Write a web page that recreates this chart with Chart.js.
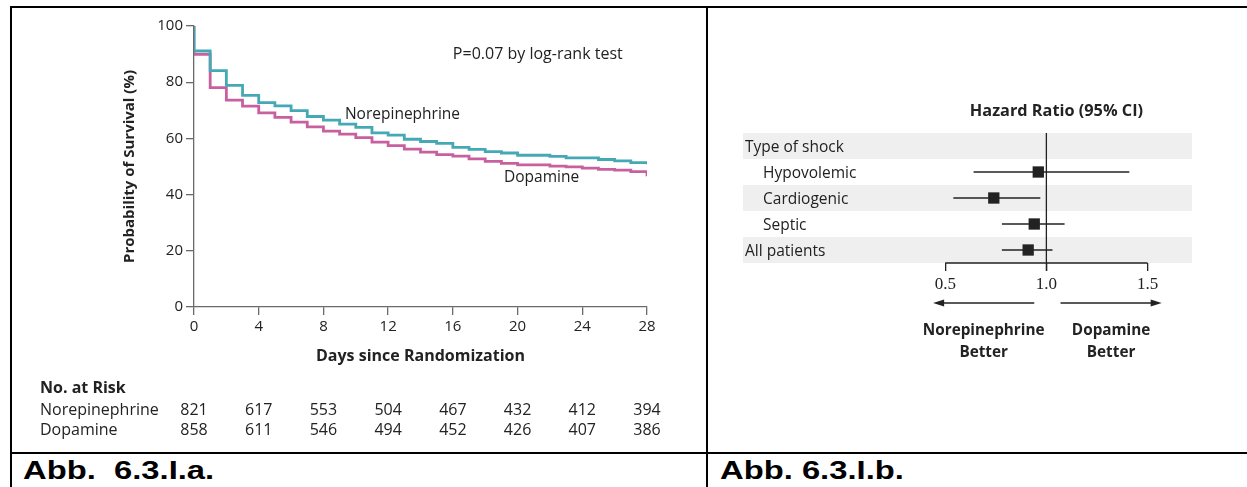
<!DOCTYPE html>
<html>
<head>
<meta charset="utf-8">
<script src="https://cdn.jsdelivr.net/npm/chart.js@4.4.0/dist/chart.umd.min.js"></script>
<style>
  body { margin: 0; background: #fff; width: 1247px; height: 487px; overflow: hidden; position: relative; }
  canvas { position: absolute; }
  .rule { position: absolute; background: #000; }
  .caption { position: absolute; font: bold 26px "Liberation Sans", Arial, sans-serif; line-height: 30px; white-space: pre; color: #000; transform: scaleX(1.26); transform-origin: 0 0; }
</style>
</head>
<body>
<canvas id="km" width="707" height="452" style="left:0;top:0"></canvas>
<canvas id="forest" width="539" height="444" style="left:708px;top:8px"></canvas>

<div class="rule" style="left:10px;top:6px;width:1237px;height:2px"></div>
<div class="rule" style="left:10px;top:6px;width:2px;height:481px"></div>
<div class="rule" style="left:706px;top:6px;width:2px;height:481px"></div>
<div class="rule" style="left:10px;top:452px;width:1237px;height:2px"></div>
<div class="caption" style="left:23px;top:455px">Abb.  6.3.I.a.</div>
<div class="caption" style="left:720px;top:455px">Abb. 6.3.I.b.</div>

<script>
// survival curves (first point is the 100% start at day 0)
var days = [0, 0, 1, 2, 3, 4, 5, 6, 7, 8, 9, 10, 11, 12, 13, 14, 15, 16, 17, 18, 19, 20, 21, 22, 23, 24, 25, 26, 27, 28];
var norepinephrine = [100, 91.1, 84.1, 78.9, 75.3, 72.7, 71.6, 69.9, 67.8, 66.5, 65.1, 63.9, 62.0, 61.2, 59.7, 58.9, 58.2, 56.8, 56.1, 55.3, 54.8, 54.0, 54.0, 53.6, 53.1, 53.1, 52.5, 52.0, 51.4, 50.8];
var dopamine = [100, 89.9, 78.1, 73.6, 71.5, 69.1, 67.5, 65.8, 64.1, 62.6, 61.5, 60.3, 58.7, 57.4, 56.2, 55.1, 54.2, 53.7, 52.7, 51.8, 51.1, 50.6, 50.6, 50.1, 49.9, 49.4, 49.0, 48.7, 48.2, 46.5];

var dayTicks = [0, 4, 8, 12, 16, 20, 24, 28];
var survivalTicks = [0, 20, 40, 60, 80, 100];
var riskNorepinephrine = [821, 617, 553, 504, 467, 432, 412, 394];
var riskDopamine = [858, 611, 546, 494, 452, 426, 407, 386];

// forest plot
var subgroups = ["Type of shock", "Hypovolemic", "Cardiogenic", "Septic", "All patients"];
var indented = [false, true, true, true, false];
var hazardRatio = [null, 0.96, 0.74, 0.94, 0.91];
var ciLow = [null, 0.64, 0.54, 0.78, 0.78];
var ciHigh = [null, 1.41, 0.97, 1.09, 1.03];
var hrTicks = [0.5, 1.0, 1.5];

var teal = "#45a9b5";
var pink = "#c8609f";
var ink = "#222";
var sans = "'Open Sans', sans-serif";

// chart 1 - Kaplan-Meier

var kmLabels = {
    id: "kmLabels",
    afterDraw: function (chart) {
        var ctx = chart.ctx;
        var x = chart.scales.x, y = chart.scales.y;
        ctx.save();
        ctx.fillStyle = ink;
        ctx.textBaseline = "middle";
        ctx.textAlign = "left";
        ctx.font = "16px " + sans;
        ctx.fillText("P=0.07 by log-rank test", x.getPixelForValue(16.0), y.getPixelForValue(89.9));
        ctx.font = "15.5px " + sans;
        ctx.fillText("Norepinephrine", x.getPixelForValue(9.33), y.getPixelForValue(68.5));
        ctx.fillText("Dopamine", x.getPixelForValue(19.16), y.getPixelForValue(46.1));

        // number at risk
        ctx.font = "bold 16px " + sans;
        ctx.fillText("No. at Risk", 40, 388);
        ctx.font = "16px " + sans;
        ctx.fillText("Norepinephrine", 40, 410);
        ctx.fillText("Dopamine", 40, 430);
        ctx.textAlign = "center";
        dayTicks.forEach(function (d, i) {
            var px = x.getPixelForValue(d);
            ctx.fillText(String(riskNorepinephrine[i]), px, 410);
            ctx.fillText(String(riskDopamine[i]), px, 430);
        });
        ctx.restore();
    }
};

function curve(values) {
    return days.map(function (d, i) { return { x: d, y: values[i] }; });
}

new Chart(document.getElementById("km"), {
    type: "line",
    data: {
        datasets: [{
            label: "Norepinephrine",
            data: curve(norepinephrine),
            borderColor: teal,
            borderWidth: 2.8,
            pointRadius: 0,
            stepped: true,
            fill: false
        }, {
            label: "Dopamine",
            data: curve(dopamine),
            borderColor: pink,
            borderWidth: 2.8,
            pointRadius: 0,
            stepped: true,
            fill: false
        }]
    },
    options: {
        responsive: false,
        animation: false,
        layout: { padding: { left: 114, right: 60, top: 26, bottom: 85 } },
        plugins: {
            legend: { display: false },
            tooltip: { enabled: false }
        },
        scales: {
            x: {
                type: "linear",
                min: 0,
                max: 28,
                afterBuildTicks: function (s) { s.ticks = dayTicks.map(function (v) { return { value: v }; }); },
                afterFit: function (s) { s.height = 60; },
                grid: { drawOnChartArea: false, tickLength: 8, color: "#6a6a6a", lineWidth: 1.3 },
                border: { color: "#6a6a6a", width: 1.3 },
                ticks: { color: ink, padding: 3, maxRotation: 0, autoSkip: false, font: { family: sans, size: 15 } },
                title: {
                    display: true,
                    text: "Days since Randomization",
                    color: ink,
                    font: { family: sans, size: 16, weight: "bold" },
                    padding: { top: 0, bottom: 1 }
                }
            },
            y: {
                min: 0,
                max: 100,
                afterBuildTicks: function (s) { s.ticks = survivalTicks.map(function (v) { return { value: v }; }); },
                afterFit: function (s) { s.width = 80; },
                grid: { drawOnChartArea: false, tickLength: 8, color: "#6a6a6a", lineWidth: 1.3 },
                border: { color: "#6a6a6a", width: 1.3 },
                ticks: { color: ink, padding: 3, font: { family: sans, size: 15 } },
                title: {
                    display: true,
                    text: "Probability of Survival (%)",
                    color: ink,
                    font: { family: sans, size: 15, weight: "bold" },
                    padding: { top: 7, bottom: 0 }
                }
            }
        }
    },
    plugins: [kmLabels]
});

// chart 2 - hazard ratios

var forestDecor = {
    id: "forestDecor",
    beforeDatasetsDraw: function (chart) {
        var ctx = chart.ctx, area = chart.chartArea;
        var x = chart.scales.x, y = chart.scales.y;
        ctx.save();
        ctx.fillStyle = "#efefef";
        subgroups.forEach(function (name, i) {
            if (i % 2 === 0) {
                var top = y.getPixelForValue(i - 0.5), bottom = y.getPixelForValue(i + 0.5);
                ctx.fillRect(area.left, top, area.right - area.left, bottom - top);
            }
        });
        ctx.strokeStyle = ink;
        ctx.lineWidth = 1.3;
        ctx.beginPath();
        ctx.moveTo(x.getPixelForValue(hrTicks[0]), area.bottom);
        ctx.lineTo(x.getPixelForValue(hrTicks[hrTicks.length - 1]), area.bottom);
        ctx.moveTo(x.getPixelForValue(1), area.top);
        ctx.lineTo(x.getPixelForValue(1), area.bottom + 8);
        ctx.stroke();
        ctx.restore();
    },
    afterDraw: function (chart) {
        var ctx = chart.ctx, area = chart.chartArea;
        var x = chart.scales.x, y = chart.scales.y;
        ctx.save();
        ctx.fillStyle = ink;
        ctx.textBaseline = "middle";
        ctx.textAlign = "left";
        ctx.font = "15.5px " + sans;
        subgroups.forEach(function (name, i) {
            ctx.fillText(name, area.left + (indented[i] ? 20 : 2), y.getPixelForValue(i) + 1.5);
        });

        ctx.textAlign = "center";
        ctx.font = "bold 16.3px " + sans;
        ctx.fillText("Hazard Ratio (95% CI)", x.getPixelForValue(1.05), 103);

        // arrows
        var ay = 303 - 8;
        function arrow(from, to) {
            var x0 = x.getPixelForValue(from), x1 = x.getPixelForValue(to);
            var dir = x1 > x0 ? 1 : -1;
            ctx.strokeStyle = ink;
            ctx.lineWidth = 1.3;
            ctx.beginPath();
            ctx.moveTo(x0, ay);
            ctx.lineTo(x1 - dir * 8, ay);
            ctx.stroke();
            ctx.beginPath();
            ctx.moveTo(x1, ay);
            ctx.lineTo(x1 - dir * 11, ay - 3.5);
            ctx.lineTo(x1 - dir * 11, ay + 3.5);
            ctx.closePath();
            ctx.fill();
        }
        arrow(0.94, 0.44);
        arrow(1.07, 1.57);

        ctx.font = "bold 15.3px " + sans;
        ctx.fillText("Norepinephrine", x.getPixelForValue(0.69), 323);
        ctx.fillText("Better", x.getPixelForValue(0.69), 345);
        ctx.fillText("Dopamine", x.getPixelForValue(1.32), 323);
        ctx.fillText("Better", x.getPixelForValue(1.32), 345);
        ctx.restore();
    }
};

var ciSets = [];
subgroups.forEach(function (name, i) {
    if (hazardRatio[i] === null) return;
    ciSets.push({
        type: "line",
        label: name + " CI",
        data: [{ x: ciLow[i], y: i }, { x: ciHigh[i], y: i }],
        borderColor: ink,
        borderWidth: 1.3,
        pointRadius: 0
    });
});

var points = [];
subgroups.forEach(function (name, i) {
    if (hazardRatio[i] !== null) points.push({ x: hazardRatio[i], y: i });
});

new Chart(document.getElementById("forest"), {
    type: "scatter",
    data: {
        datasets: [{
            label: "Hazard ratio",
            data: points,
            pointStyle: "rect",
            pointRadius: 8,
            backgroundColor: ink,
            borderWidth: 0
        }].concat(ciSets)
    },
    options: {
        responsive: false,
        animation: false,
        layout: { padding: { left: 35, right: 55, top: 125, bottom: 159 } },
        plugins: {
            legend: { display: false },
            tooltip: { enabled: false }
        },
        scales: {
            x: {
                type: "linear",
                min: -0.5,
                max: 1.72,
                afterBuildTicks: function (s) { s.ticks = hrTicks.map(function (v) { return { value: v }; }); },
                afterFit: function (s) { s.height = 30; },
                grid: { drawOnChartArea: false, tickLength: 8, color: ink, lineWidth: 1.3 },
                border: { display: false },
                ticks: {
                    color: ink,
                    padding: 3,
                    autoSkip: false,
                    maxRotation: 0,
                    font: { family: "'Liberation Serif', serif", size: 17 },
                    callback: function (v) { return Number(v).toFixed(1); }
                }
            },
            y: {
                type: "linear",
                min: -0.5,
                max: 4.5,
                reverse: true,
                display: false
            }
        }
    },
    plugins: [forestDecor]
});
</script>
</body>
</html>
